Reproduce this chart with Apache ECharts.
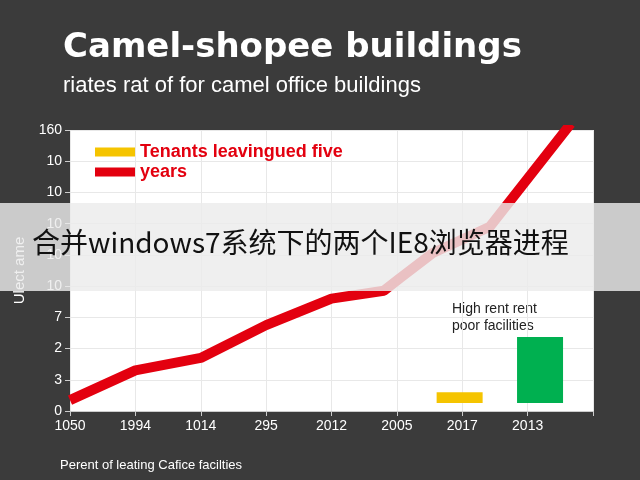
<!DOCTYPE html>
<html><head><meta charset="utf-8">
<script src="https://cdn.jsdelivr.net/npm/echarts@6/dist/echarts.min.js"></script>
<style>html,body{margin:0;background:#3b3b3b}#main{width:640px;height:480px}</style>
</head><body><div id="main"></div>
<script>
// tick labels
var xLabels = ['1050', '1994', '1014', '295', '2012', '2005', '2017', '2013', ''];
var yLabels = ['0', '3', '2', '7', '10', '10', '10', '10', '10', '160'];
// red line
var lineX = [0, 1, 2, 3, 4, 4.8, 5.05, 5.55, 6.42, 7.66];
var lineY = [0.35, 1.3, 1.7, 2.75, 3.6, 3.85, 4.26, 5.06, 5.9, 9.2];
// floating bars: position, bottom, top
var barX = [5.96, 7.19];
var barLow = [0.26, 0.26];
var barHigh = [0.6, 2.37];
var barColors = ['#f5c400', '#00b050'];

var myChart = echarts.init(document.getElementById('main'));
var font = 'Liberation Sans';
option = {
    backgroundColor: '#3b3b3b',
    textStyle: { fontFamily: font },
    title: {
        text: 'Camel-shopee buildings',
        subtext: 'riates rat of for camel office buildings',
        left: 58, top: 26, itemGap: 10,
        textStyle: { color: '#fff', fontSize: 34, fontWeight: 'bold', fontFamily: 'DejaVu Sans' },
        subtextStyle: { color: '#fff', fontSize: 22 }
    },
    legend: {
        orient: 'vertical', left: 90, top: 138, itemGap: 2,
        itemWidth: 40, itemHeight: 9, icon: 'rect',
        textStyle: { color: '#e3000f', fontSize: 18, fontWeight: 'bold' },
        data: [{ name: 'Tenants leavingued five', itemStyle: { color: '#f5c400' } }, 'years']
    },
    grid: { left: 70, right: 47, top: 130, bottom: 69, backgroundColor: '#fff', show: true, borderWidth: 0 },
    xAxis: {
        type: 'value', min: 0, max: 8, interval: 1,
        axisLine: { lineStyle: { color: '#ccc' } },
        axisTick: { show: true, lineStyle: { color: '#ccc' } },
        splitLine: { lineStyle: { color: '#e8e8e8' } },
        axisLabel: { color: '#fff', fontSize: 14, formatter: function (v) { return xLabels[v]; } },
        name: 'Perent of leating Cafice facilties', nameLocation: 'start',
        nameGap: 0,
        nameTextStyle: { color: '#fff', fontSize: 13, padding: [48, 0, 0, -10], align: 'left', verticalAlign: 'top' }
    },
    yAxis: {
        type: 'value', min: 0, max: 9, interval: 1,
        axisLine: { show: false },
        axisTick: { show: true, lineStyle: { color: '#ccc' } },
        splitLine: { lineStyle: { color: '#e8e8e8' } },
        axisLabel: { color: '#fff', fontSize: 14, formatter: function (v) { return yLabels[v]; } },
        name: 'Ulect ame', nameLocation: 'middle', nameGap: 42, nameRotate: 90,
        nameTextStyle: { color: '#fff', fontSize: 15 }
    },
    series: [
        {
            name: 'Tenants leavingued five', type: 'custom',
            itemStyle: { color: '#f5c400' },
            renderItem: function (params, api) {
                var i = params.dataIndex;
                var lo = api.coord([api.value(0), api.value(1)]);
                var hi = api.coord([api.value(0), api.value(2)]);
                return {
                    type: 'rect',
                    shape: { x: lo[0] - 23, y: hi[1], width: 46, height: lo[1] - hi[1] },
                    style: { fill: barColors[i] }
                };
            },
            encode: { x: 0, y: [1, 2] },
            data: barX.map(function (x, i) { return [x, barLow[i], barHigh[i]]; })
        },
        {
            name: 'years', type: 'line', symbol: 'none', clip: false,
            lineStyle: { color: '#e3000f', width: 10 }, itemStyle: { color: '#e3000f' },
            data: lineX.map(function (x, i) { return [x, lineY[i]]; }),
            z: 5
        }
    ],
    graphic: [
        { type: 'text', left: 452, top: 301, style: { text: 'High rent rent\npoor facilities', fill: '#222', font: '14px ' + font, lineHeight: 17 } },
        { type: 'rect', shape: { x: 0, y: 203, width: 640, height: 88 }, style: { fill: 'rgba(235,235,235,0.82)' }, z: 100 },
        { type: 'text', left: 32, top: 228, z: 101, style: { text: '合并windows7系统下的两个IE8浏览器进程', fill: '#111', font: '28px "Noto Sans CJK SC"' } }
    ]
};
myChart.setOption(option);
</script></body></html>
